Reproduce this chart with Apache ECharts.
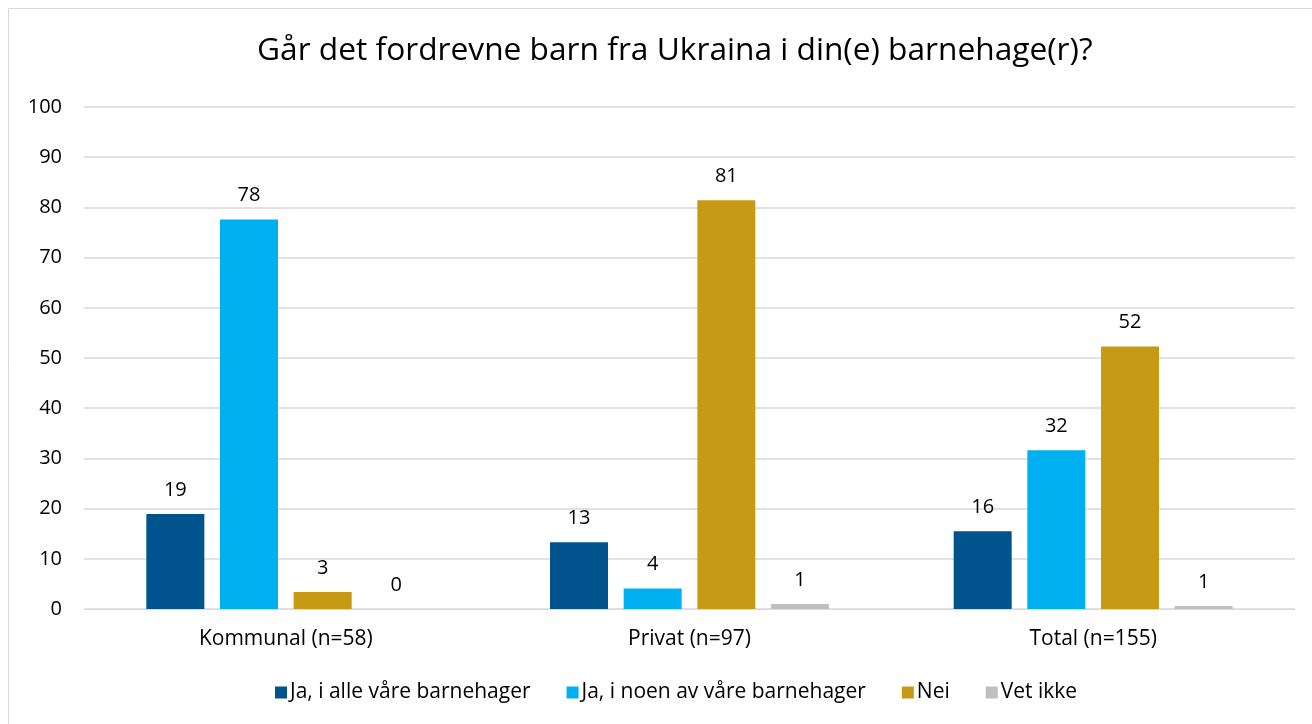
<!DOCTYPE html>
<html>
<head>
<meta charset="utf-8">
<script src="https://cdn.jsdelivr.net/npm/echarts@6/dist/echarts.min.js"></script>
<style>
  html, body { margin: 0; padding: 0; background: #fff; }
  #chart { width: 1312px; height: 724px; }
</style>
</head>
<body>
<div id="chart"></div>
<script>
// data
const categories = ['Kommunal (n=58)', 'Privat (n=97)', 'Total (n=155)'];
const seriesNames = ['Ja, i alle våre barnehager', 'Ja, i noen av våre barnehager', 'Nei', 'Vet ikke'];
const jaAlle = [18.9, 13.3, 15.5];
const jaNoen = [77.6, 4.1, 31.6];
const nei = [3.4, 81.4, 52.3];
const vetIkke = [0, 1.0, 0.6];
const yTicks = [0, 10, 20, 30, 40, 50, 60, 70, 80, 90, 100];
const colors = ['#00538C', '#00B0F0', '#C79A16', '#BFBFBF'];

document.addEventListener('DOMContentLoaded', function() {
    const chart = echarts.init(document.getElementById('chart'));
    const font = 'Open Sans, Liberation Sans, sans-serif';
    const values = [jaAlle, jaNoen, nei, vetIkke];

    const series = values.map(function(arr, i) {
        return {
            name: seriesNames[i],
            type: 'bar',
            data: arr,
            barWidth: 58,
            barGap: '27%',
            itemStyle: { color: colors[i] },
            label: {
                show: true,
                position: 'top',
                distance: 14,
                color: '#000',
                fontSize: 20,
                fontFamily: font,
                formatter: function(p) { return Math.round(p.value); }
            }
        };
    });

    const option = {
        animation: false,
        backgroundColor: '#fff',
        title: {
            text: 'Går det fordrevne barn fra Ukraina i din(e) barnehage(r)?',
            left: 252,
            top: 30,
            textStyle: { fontSize: 31.7, fontWeight: 'normal', color: '#000', fontFamily: font }
        },
        legend: {
            data: seriesNames,
            bottom: 16,
            left: 270,
            itemWidth: 12,
            itemHeight: 12,
            itemGap: 36,
            icon: 'rect',
            textStyle: { fontSize: 21, color: '#000', fontFamily: font, padding: [0, 0, 0, -2] }
        },
        grid: { left: 84, right: 17, top: 107, bottom: 115 },
        xAxis: {
            type: 'category',
            data: categories,
            axisLine: { lineStyle: { color: '#d9d9d9', width: 1 } },
            axisTick: { show: false },
            axisLabel: { color: '#000', fontSize: 21, fontFamily: font, margin: 20 }
        },
        yAxis: {
            type: 'value',
            min: 0,
            max: 100,
            interval: 10,
            axisLine: { show: false },
            axisTick: { show: false },
            axisLabel: {
                color: '#000', fontSize: 20, fontFamily: font, margin: 22,
                formatter: function(v) { return yTicks.indexOf(v) >= 0 ? v : ''; }
            },
            splitLine: { lineStyle: { color: '#d9d9d9', width: 1.5 } }
        },
        graphic: [{
            type: 'rect',
            shape: { x: 8.5, y: 8.5, width: 1320, height: 730 },
            style: { fill: 'none', stroke: '#d9d9d9', lineWidth: 1 },
            silent: true
        }],
        series: series
    };
    chart.setOption(option);
});
</script>
</body>
</html>
